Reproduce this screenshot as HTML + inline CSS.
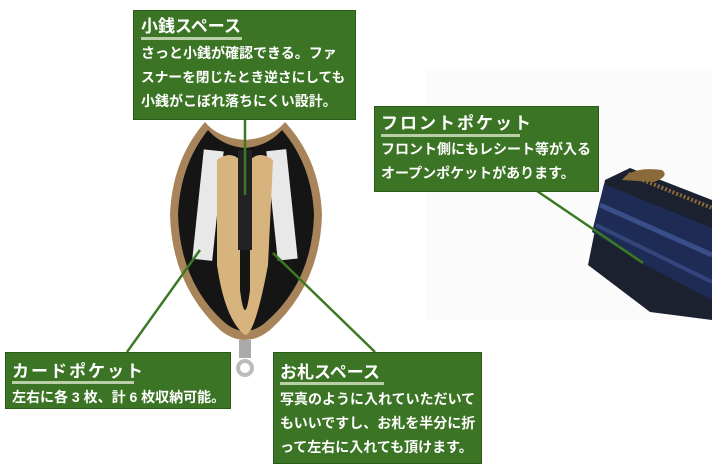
<!DOCTYPE html>
<html><head><meta charset="utf-8"><style>
html,body{margin:0;padding:0;background:#fff;width:712px;height:471px;overflow:hidden}
svg text{font-family:"Liberation Sans","Noto Sans CJK JP",sans-serif;fill:#fff;font-weight:bold}
</style></head><body>
<svg width="712" height="471" viewBox="0 0 712 471" xmlns="http://www.w3.org/2000/svg">
<rect x="425" y="68" width="287" height="252" fill="#fbfbfb"/>
<!-- front wallet -->
<polygon points="605,180 630,168 712,200 712,320 650,312 588,265" fill="#1c2130"/>
<polygon points="604,184 712,228 712,300 640,262 592,232" fill="#1e2b55"/>
<path d="M600,205 L712,255" stroke="#3a4e8a" stroke-width="5" fill="none"/>
<path d="M596,225 L712,282" stroke="#33467c" stroke-width="4" fill="none"/>
<path d="M628,174 L712,208" stroke="#8a6a3a" stroke-width="4" stroke-dasharray="2,2" fill="none"/>
<path d="M622,180 q10,-14 40,-10 q8,6 -8,12 z" fill="#8a6a3a"/>
<!-- center wallet -->
<path d="M205,122 Q172,160 170,215 Q172,285 220,330 Q245,350 270,330 Q320,285 322,215 Q320,160 285,122 Q272,138 245,140 Q218,138 205,122 Z" fill="#a8845a"/>
<path d="M208,130 Q180,165 178,215 Q180,282 224,322 Q245,340 266,322 Q312,282 314,215 Q312,165 282,130 Q268,146 245,148 Q222,146 208,130 Z" fill="#151515"/>
<rect x="198" y="150" width="20" height="110" fill="#e8e8e8" transform="rotate(6 207 205)"/>
<rect x="272" y="150" width="20" height="110" fill="#e8e8e8" transform="rotate(-6 281 205)"/>
<path d="M217,160 Q230,150 240,160 L240,290 Q245,330 250,290 L250,160 Q260,150 273,160 L268,265 Q255,335 245,335 Q225,320 217,265 Z" fill="#d7b47d"/>
<rect x="238" y="150" width="14" height="100" fill="#222"/>
<rect x="239" y="340" width="12" height="18" fill="#aaa"/>
<circle cx="245" cy="368" r="9" fill="#bbb"/><circle cx="245" cy="368" r="5" fill="#fff"/>
<!-- connectors -->
<g stroke="#3b7a22" stroke-width="2.5">
<line x1="245" y1="119" x2="245" y2="195"/>
<line x1="127" y1="352" x2="200" y2="250"/>
<line x1="273" y1="253" x2="375" y2="352"/>
<line x1="537" y1="191" x2="643" y2="263"/>
</g>
<!-- boxes -->
<g fill="#3b7424" stroke="#2c5a1a" stroke-width="1">
<rect x="133.5" y="10.5" width="222" height="109"/>
<rect x="374.5" y="106.5" width="224" height="85"/>
<rect x="5.5" y="352.5" width="225" height="56"/>
<rect x="273.5" y="352.5" width="208" height="111"/>
</g>
<g fill="#b9cfa8">
<rect x="141" y="37" width="101" height="3"/>
<rect x="381" y="134" width="139" height="3"/>
<rect x="12" y="381" width="122" height="3"/>
<rect x="280" y="382" width="104" height="3"/>
</g>
<text x="141" y="32" font-size="17">小銭スペース</text>
<text x="141" y="58" font-size="14">さっと小銭が確認できる。ファ</text>
<text x="141" y="82" font-size="13.7">スナーを閉じたとき逆さにしても</text>
<text x="141" y="106" font-size="14">小銭がこぼれ落ちにくい設計。</text>
<text x="381" y="129" font-size="17" letter-spacing="2">フロントポケット</text>
<text x="381" y="154" font-size="14">フロント側にもレシート等が入る</text>
<text x="381" y="178" font-size="14">オープンポケットがあります。</text>
<text x="12" y="377" font-size="17" letter-spacing="2">カードポケット</text>
<text x="12" y="402" font-size="14">左右に各 3 枚、計 6 枚収納可能。</text>
<text x="280" y="378" font-size="17">お札スペース</text>
<text x="280" y="404" font-size="14">写真のように入れていただいて</text>
<text x="280" y="428" font-size="14">もいいですし、お札を半分に折</text>
<text x="280" y="452" font-size="14">って左右に入れても頂けます。</text>
</svg>
</body></html>
